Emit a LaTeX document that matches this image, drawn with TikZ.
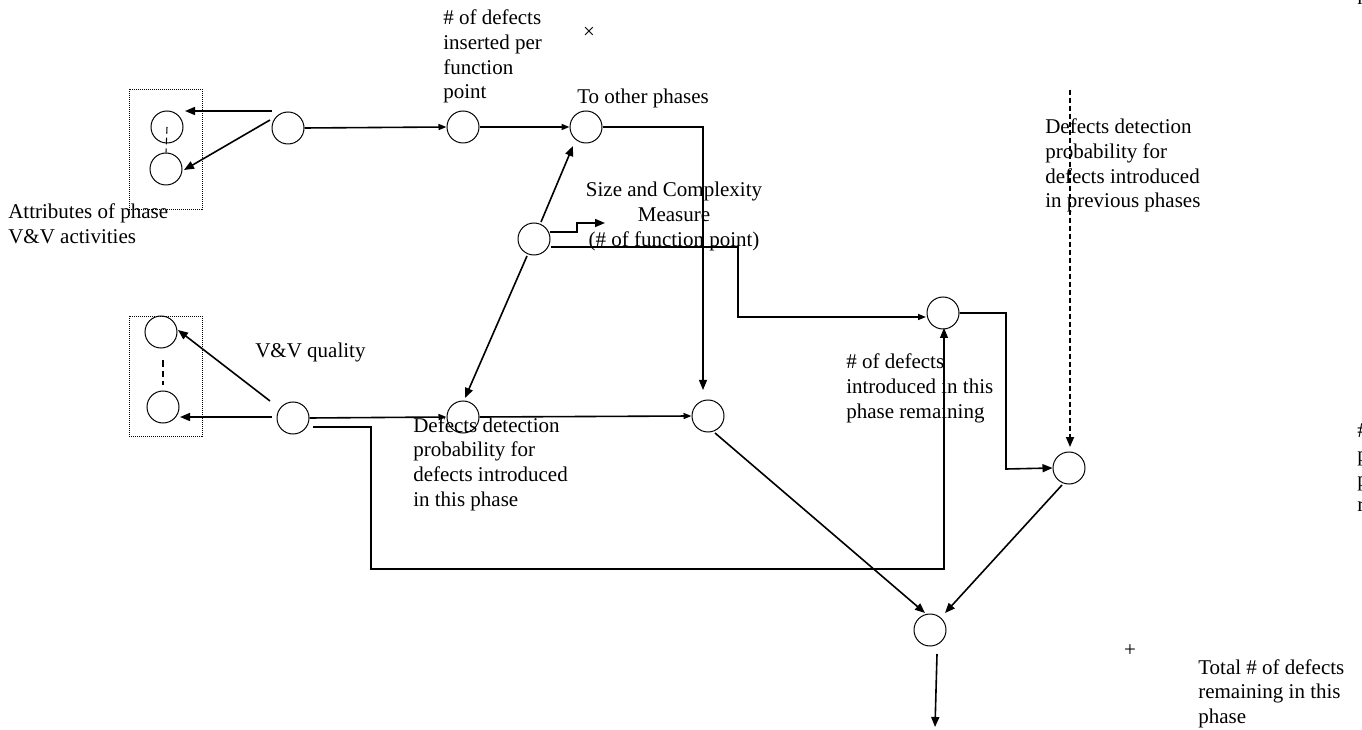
\documentclass[tikz,border=0pt]{standalone}
\usepackage{fontspec}
\setmainfont{Liberation Serif}
\usetikzlibrary{arrows.meta}
\newcommand\mll[1]{\begin{tabular}[t]{@{}l@{}}#1\end{tabular}}
\newcommand\mlc[1]{\begin{tabular}[t]{@{}c@{}}#1\end{tabular}}
\begin{document}
\begin{tikzpicture}[x=0.75pt,y=-0.75pt,
  font=\fontsize{15.75}{18.5}\selectfont,
  nd/.style={circle,draw,line width=0.75pt,minimum size=24pt,inner sep=0pt},
  lab/.style={anchor=base west,inner sep=0pt},
  labc/.style={anchor=base,inner sep=0pt},
  thk/.style={line width=1.2pt},
  thn/.style={line width=0.8pt},
  tip/.style={-{Triangle[length=7.5pt,width=6pt]}},
  tipsm/.style={-{Triangle[length=6pt,width=4.5pt]}},
  grp/.style={line width=0.6pt,dash pattern=on 0.75pt off 0.75pt}]
\useasboundingbox (0,0) rectangle (1362,730);
% group boxes
\draw[grp] (129,89) rectangle (202,209);
\draw[grp] (129,316) rectangle (202,436);
% nodes
\node[nd] (A1) at (167,127) {};
\node[nd] (A2) at (166,169) {};
\node[nd] (B) at (288,128) {};
\node[nd] (C) at (463,127) {};
\node[nd] (D) at (586,127) {};
\node[nd] (E) at (534,239) {};
\node[nd] (F) at (708,416) {};
\node[nd] (G) at (943,313) {};
\node[nd] (H) at (463,417) {};
\node[nd] (I) at (293,418) {};
\node[nd] (J1) at (161,332) {};
\node[nd] (J2) at (163,407) {};
\node[nd] (K) at (930,630) {};
\node[nd] (L) at (1069,468) {};
\coordinate (szout) at (605,223);
\coordinate (prev) at (1070,90);
\coordinate (out) at (935,727);
% dashed links inside groups
\draw[line width=0.8pt,dash pattern=on 5pt off 3pt] (A1.center) -- (A2.north);
\draw[line width=0.8pt,dash pattern=on 5pt off 3pt] ([shift={(2,28)}]J1.center) -- ([shift={(0,-22)}]J2.center);
% connectors
\draw[thk,tip] ([shift={(-16,-17)}]B.center) -- ([shift={(18,-16)}]A1.center);
\draw[thk,tip] ([shift={(-18,-8)}]B.center) -- ([shift={(18,1)}]A2.center);
\draw[thk,tipsm] (B.east) -- (C.west);
\draw[thk,tipsm] (C.east) -- (D.west);
\draw[thn,tip] (D.east) -| ([shift={(-5,-26)}]F.center);
\draw[thk,tip] ([shift={(7,-17)}]E.center) -- ([shift={(-13,19)}]D.center);
\draw[thk,tip] ([shift={(-7,17)}]E.center) -- ([shift={(2,-19)}]H.center);
\draw[thk,tip] ([shift={(16,-7)}]E.center) -- (577,232) -- (577,223) -- (szout);
\draw[thk,tipsm] ([shift={(17,8)}]E.center) -- (738,247) -- (738,317) -- ([shift={(-17,4)}]G.center);
\draw[thk,tip] ([shift={(-23,-17)}]I.center) -- ([shift={(17,-2)}]J1.center);
\draw[thk,tip] ([shift={(-21,-1)}]I.center) -- ([shift={(17,10)}]J2.center);
\draw[thk,tipsm] (I.east) -- (H.west);
\draw[thn,tip] ([shift={(20,9)}]I.center) -- (371,427) -- (371,569) -- (944,569) -- ([shift={(1,15)}]G.center);
\draw[thk,tipsm] (H.east) -- (F.west);
\draw[thk,tip] ([shift={(7,17)}]F.center) -- ([shift={(-5,-17)}]K.center);
\draw[thk,tip] (G.east) -- (1006,313) -- (1006,469) -- (L.west);
\draw[thk,tip,dash pattern=on 3.5pt off 2.5pt] (prev) -- ([shift={(1,-21)}]L.center);
\draw[thk,tip] ([shift={(-7,17)}]L.center) -- ([shift={(15,-17)}]K.center);
\draw[thk,tip] ([shift={(7,24)}]K.center) -- (out);
% labels
\node[lab] (t1) at (443,25) {\mll{\# of defects\\inserted per\\function\\point}};
\node[inner sep=0pt] (tx) at (589,33) {×};
\node[lab] (t2) at (577,104) {To other phases};
\node[labc] (t3) at (674,197) {\mlc{Size and Complexity\\Measure\\(\# of function point)}};
\node[lab] (t4) at (8,219) {\mll{Attributes of phase\\V\&V activities}};
\node[lab] (t5) at (255,358) {V\&V quality};
\node[lab] (t6) at (413,432) {\mll{Defects detection\\probability for\\defects introduced\\in this phase}};
\node[lab] (t7) at (846,369) {\mll{\# of defects\\introduced in this\\phase remaining}};
\node[lab] (t8) at (1045,134) {\mll{Defects detection\\probability for\\defects introduced\\in previous phases}};
\node[inner sep=0pt] (tplus) at (1130,651) {+};
\node[lab] (t9) at (1198,674) {\mll{Total \# of defects\\remaining in this\\phase}};
\node[lab] (t10) at (1357,437) {\mll{\# of defects\\passed from\\previous phases\\remaining}};
\node[lab] (t11) at (1357,5) {n};
\end{tikzpicture}
\end{document}
